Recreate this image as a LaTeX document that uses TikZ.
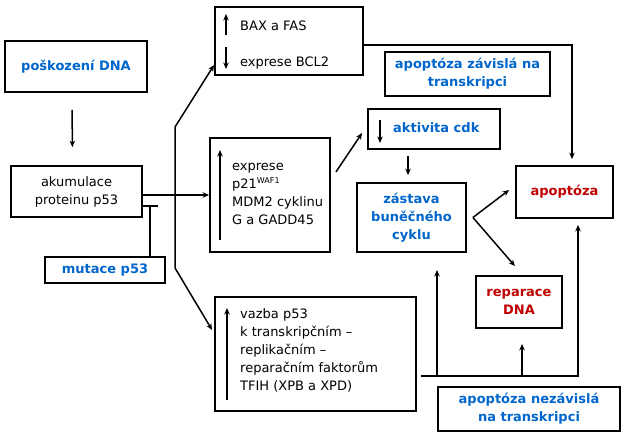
\documentclass[tikz,border=0pt]{standalone}
\usepackage{fontspec}
\setmainfont{DejaVu Sans}
\usetikzlibrary{arrows.meta,calc}
\definecolor{tblue}{HTML}{0066CC}
\definecolor{tred}{HTML}{C00000}
\begin{document}
\begin{tikzpicture}[x=1pt,y=-1pt,
  box/.style={draw,line width=1.8pt,inner sep=0pt,align=center,font=\fontsize{13}{18}\selectfont},
  btxt/.style={font=\bfseries\fontsize{13}{18}\selectfont,text=tblue},
  rtxt/.style={font=\bfseries\fontsize{13}{18}\selectfont,text=tred},
  txt/.style={inner sep=0pt,align=left,font=\fontsize{13}{18}\selectfont,anchor=west},
  arr/.style={line width=1.5pt,-{Stealth[length=6.5pt,width=5.5pt]}},
  arrbi/.style={line width=1.5pt,{Stealth[length=6.5pt,width=5.5pt]}-{Stealth[length=6.5pt,width=5.5pt]}},
  ln/.style={line width=1.5pt}]
\useasboundingbox (0,0) rectangle (630,439);
\fill[white] (0,0) rectangle (630,439);
% boxes
\node[box,btxt,minimum width=142pt,minimum height=51pt] (dna) at (76,66.5) {poškození DNA};
\node[box,minimum width=131pt,minimum height=51pt] (akum) at (76.5,191.5) {akumulace\\proteinu p53};
\node[box,btxt,minimum width=120pt,minimum height=26pt] (mut) at (105,270) {mutace p53};
\node[box,minimum width=148pt,minimum height=68pt] (bax) at (289,41) {};
\node[box,minimum width=120pt,minimum height=114pt] (p21) at (270,195) {};
\node[box,minimum width=201pt,minimum height=114pt] (vazba) at (315.5,354) {};
\node[box,btxt,minimum width=165pt,minimum height=44pt] (zav) at (467.5,74) {apoptóza závislá na\\transkripci};
\node[box,minimum width=132pt,minimum height=40pt] (cdk) at (434,129) {};
\node[box,btxt,minimum width=109pt,minimum height=69pt] (zast) at (411.5,217.5) {zástava\\buněčného\\cyklu};
\node[box,rtxt,minimum width=97pt,minimum height=52pt] (apo) at (564.5,192) {apoptóza};
\node[box,rtxt,minimum width=86pt,minimum height=52pt] (rep) at (519,302) {reparace\\DNA};
\node[box,btxt,minimum width=182pt,minimum height=44pt] (nez) at (529,409) {apoptóza nezávislá\\na transkripci};
% texts inside boxes
\node[txt] (baxa) at (240,26) {BAX a FAS};
\node[txt] (baxb) at (240,63) {exprese BCL2};
\node[txt] (p21t) at (232,194) {exprese\\p21\raisebox{5pt}{\fontsize{8}{8}\selectfont WAF1}\\MDM2 cyklinu\\G a GADD45};
\node[txt] (vazt) at (240,350) {vazba p53\\k transkripčním –\\replikačním –\\reparačním faktorům\\TFIH (XPB a XPD)};
\node[txt,btxt] (cdkt) at (393,128) {aktivita cdk};
% arrows inside boxes
\draw[arr] (226,35) -- (226,14);
\draw[arr] (226,47) -- (226,69);
\draw[arr] (220,240) -- (220,150);
\draw[arr] (227,400) -- (227,308);
\draw[arr] (380,120) -- (380,143);
% connectors
\draw[arr,shorten <=17pt,shorten >=18pt] ([xshift=-4pt]dna.south) -- ([xshift=-4pt]akum.north);
\draw[arr] (akum.east |- p21.west) -- (p21.west);
\coordinate (inh) at (150,206);
\draw[ln] (inh |- mut.north) -- (inh);
\draw[ln] ([xshift=-8pt]inh) -- ([xshift=8pt]inh);
\coordinate (b1) at (175,127);
\coordinate (b2) at (175,268);
\draw[arrbi] ([yshift=-24pt]bax.west) -- (b1) -- (b2) -- ([xshift=-2pt,yshift=24pt]vazba.west);
\draw[arr] ([yshift=-4pt]bax.east) -| ([xshift=7.5pt,yshift=6pt]apo.north);
\draw[arr] ([xshift=5pt,yshift=23pt]p21.east) -- ([xshift=-5pt,yshift=-4pt]cdk.west);
\coordinate (t3) at ([xshift=-26pt]cdk.south);
\draw[arr,shorten <=6pt,shorten >=7pt] (t3) -- (t3 |- zast.north);
\coordinate (zr) at ([xshift=6pt]zast.east);
\draw[arr] (zr) -- ([xshift=-6pt,yshift=2pt]apo.west);
\draw[arr] (zr) -- ([xshift=-4pt,yshift=9pt]rep.north);
\coordinate (bl) at ([xshift=4pt,yshift=-22pt]vazba.east);
\draw[arr] (bl) -| ([xshift=13.5pt,yshift=-6pt]apo.south);
\coordinate (t1) at (437,270);
\draw[arr] (t1 |- bl) -- (t1);
\coordinate (t2) at ([xshift=3pt,yshift=-15pt]rep.south);
\draw[arr] (t2 |- bl) -- (t2);
\end{tikzpicture}
\end{document}
